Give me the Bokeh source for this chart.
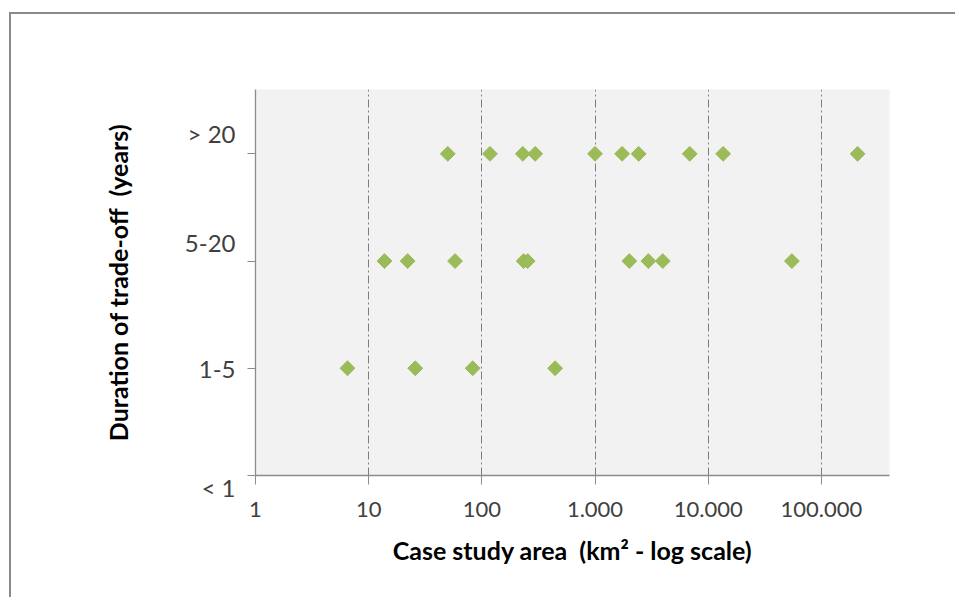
import numpy as np
from bokeh.plotting import figure
from bokeh.models import Range1d, FixedTicker, ColumnDataSource
from bokeh.embed import file_html
from bokeh.resources import INLINE

# ---- data ----
categories = ["< 1", "1-5", "5-20", "> 20"]
category_levels = [0, 1, 2, 3]

areas_1_5 = [6.5, 25.8, 83, 444]
areas_5_20 = [13.8, 22.1, 58, 234, 254, 2010, 2960, 3970, 54900]
areas_gt20 = [50, 118, 230, 296, 1000, 1735, 2430, 6870, 13550, 209000]

x_tick_values = [1, 10, 100, 1000, 10000, 100000]
x_tick_labels = ["1", "10", "100", "1.000", "10.000", "100.000"]

# ---- build table ----
xs = areas_1_5 + areas_5_20 + areas_gt20
ys = ([category_levels[1]] * len(areas_1_5)
      + [category_levels[2]] * len(areas_5_20)
      + [category_levels[3]] * len(areas_gt20))
src = ColumnDataSource(dict(x=xs, y=ys))

# ---- layout / style ----
FONT = "Lato"
# where the category texts sit (they are not centred on the tick marks)
label_y_pos = [0.05, 1.0, 2.17, 3.19]
label_texts = ["\n" + categories[0], categories[1], categories[2], categories[3]]

p = figure(
    width=946, height=585,
    x_axis_type="log",
    x_range=Range1d(1, 4e5), y_range=Range1d(0, 3.6),
    output_backend="svg", toolbar_location=None,
    min_border_left=244, min_border_right=68,
    min_border_top=75, min_border_bottom=124,
)
p.styles = {"border-left": "2px solid #8a8a8a", "border-top": "2px solid #8a8a8a",
            "margin-top": "12px", "margin-left": "9px"}
p.background_fill_color = "#f2f2f2"
p.border_fill_color = "white"
p.outline_line_color = None

# x axis
p.xaxis.ticker = FixedTicker(ticks=x_tick_values, minor_ticks=[])
p.xaxis.major_label_overrides = {v: l for v, l in zip(x_tick_values, x_tick_labels)}
p.xaxis.axis_line_color = "#8c8c8c"
p.xaxis.axis_line_width = 1.3
p.xaxis.major_tick_line_color = "#8c8c8c"
p.xaxis.major_tick_out = 9
p.xaxis.major_tick_in = 0
p.xaxis.minor_tick_line_color = None
p.xaxis.major_label_text_font = FONT
p.xaxis.major_label_text_font_size = "22px"
p.xaxis.major_label_text_color = "#404040"
p.xaxis.major_label_standoff = 17
p.xaxis.axis_label = "Case study area\u00a0 (km\u00b2 - log scale)"
p.xaxis.axis_label_text_font = FONT
p.xaxis.axis_label_text_font_style = "bold"
p.xaxis.axis_label_text_font_size = "25px"
p.xaxis.axis_label_text_color = "black"
p.xaxis.axis_label_standoff = 15

# y axis: labels at their own positions, tick marks drawn as minor ticks
p.yaxis.ticker = FixedTicker(ticks=label_y_pos, minor_ticks=category_levels)
p.yaxis.major_label_overrides = {v: t for v, t in zip(label_y_pos, label_texts)}
p.yaxis.axis_line_color = "#8c8c8c"
p.yaxis.axis_line_width = 1.3
p.yaxis.major_tick_line_color = None
p.yaxis.major_tick_out = 0
p.yaxis.major_tick_in = 0
p.yaxis.minor_tick_line_color = "#8c8c8c"
p.yaxis.minor_tick_out = 8
p.yaxis.minor_tick_in = 0
p.yaxis.major_label_text_font = FONT
p.yaxis.major_label_text_font_size = "24px"
p.yaxis.major_label_text_color = "#404040"
p.yaxis.major_label_standoff = 12
p.yaxis.axis_label = "Duration of trade-off\u00a0 (years)"
p.yaxis.axis_label_text_font = FONT
p.yaxis.axis_label_text_font_style = "bold"
p.yaxis.axis_label_text_font_size = "25px"
p.yaxis.axis_label_text_color = "black"
p.yaxis.axis_label_standoff = 49

# grids
p.xgrid.ticker = FixedTicker(ticks=x_tick_values[1:], minor_ticks=[])
p.xgrid.grid_line_color = "#7f7f7f"
p.xgrid.grid_line_dash = "8 3 2 3"
p.xgrid.grid_line_width = 1
p.ygrid.grid_line_color = None

# points
p.scatter("x", "y", source=src, marker="square", angle=np.pi / 4, size=10.5,
          fill_color="#9bbb59", line_color="#9bbb59")

open("out.html", "w").write(file_html(p, INLINE))
